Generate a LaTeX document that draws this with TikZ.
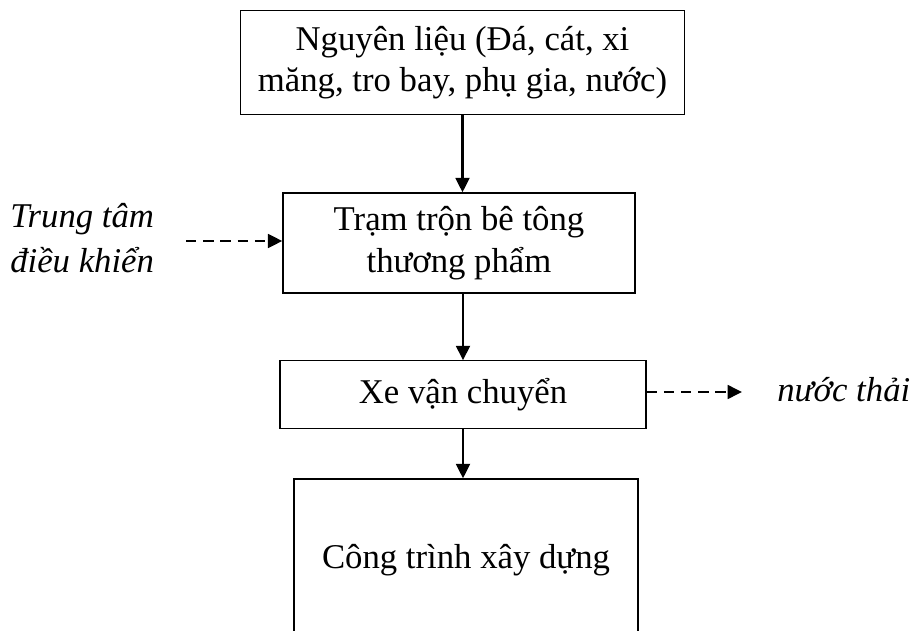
\documentclass[tikz,border=0pt]{standalone}
\usepackage{fontspec}
\setmainfont{Liberation Serif}
\usetikzlibrary{arrows.meta}

\begin{document}
\begin{tikzpicture}[x=0.025cm,y=-0.025cm,
  box/.style={draw,line width=0.85pt,inner sep=0pt,align=center,
    font=\fontsize{24.7}{29.5}\selectfont},
  flow/.style={line width=2.1pt,-{Triangle[length=0.36cm,width=0.34cm]}},
  side/.style={flow,dash pattern=on 0.26cm off 0.17cm},
  note/.style={inner sep=0pt,align=left,font=\fontsize{24.7}{31.9}\selectfont\itshape}]
  \clip (0,0) rectangle (912,630);
  \node[box,minimum width=11.08cm,minimum height=2.58cm] (nguyenlieu) at (462.5,62.5)
    {Nguyên liệu (Đá, cát, xi\\măng, tro bay, phụ gia, nước)};
  \node[box,minimum width=8.8cm,minimum height=2.5cm]   (tramtron)   at (459,243)
    {Trạm trộn bê tông\\thương phẩm};
  \node[box,minimum width=9.15cm,minimum height=1.68cm] (xe)         at (463,394.5) {Xe vận chuyển};
  \node[box,minimum width=8.6cm,minimum height=4.05cm]  (congtrinh)  at (466,560)   {Công trình xây dựng};
  \node[note,anchor=west]      (trungtam) at (10,238)  {Trung tâm\\điều khiển};
  \node[note,anchor=base west] (nuocthai) at (777,401) {nước thải};
  \coordinate (tt) at (186,241);
  \coordinate (nt) at (742,392);
  % main flow
  \draw[flow] (nguyenlieu.south) -- (nguyenlieu.south |- tramtron.north);
  \draw[flow] (xe.north |- tramtron.south) -- (xe.north);
  \draw[flow] (xe.south) -- (xe.south |- congtrinh.north);
  % side flows
  \draw[side] (tt) -- (tt -| tramtron.west);
  \draw[side] (xe.east |- nt) -- (nt);
\end{tikzpicture}
\end{document}
